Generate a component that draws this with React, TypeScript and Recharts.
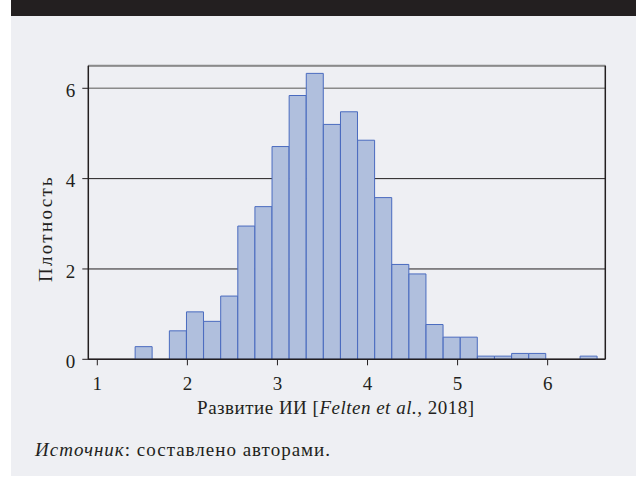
import React from "react";
import { BarChart, Bar, XAxis, YAxis, CartesianGrid, ReferenceLine } from "recharts";

const BIN_CENTERS = [
  1.515, 1.705, 1.895, 2.085, 2.275, 2.465, 2.655, 2.845, 3.035, 3.225, 3.415, 3.605, 3.795, 3.985,
  4.175, 4.365, 4.555, 4.745, 4.935, 5.125, 5.315, 5.505, 5.695, 5.885, 6.075, 6.265, 6.455,
];
const DENSITY = [
  0.28, 0, 0.63, 1.05, 0.84, 1.4, 2.95, 3.38, 4.71, 5.84, 6.33, 5.2, 5.48, 4.85,
  3.58, 2.1, 1.89, 0.77, 0.49, 0.49, 0.07, 0.07, 0.13, 0.13, 0, 0, 0.07,
];
const X_TICKS = [1, 2, 3, 4, 5, 6];
const Y_TICKS = [0, 2, 4, 6];
const GRID_COLORS = ["#231f20", "#231f20", "#231f20", "#8a8a8a"];

const X_DOMAIN: [number, number] = [0.9, 6.64];
const Y_DOMAIN: [number, number] = [0, 6.5];

const data = BIN_CENTERS.map((x, i) => ({ x, density: DENSITY[i] }));

const FONT = "'Liberation Serif', 'DejaVu Serif', serif";
const TEXT = "#231f20";

const XLabel = (props: any) => {
  const vb = props.viewBox || {};
  const cx = vb.x + vb.width / 2 - 11;
  const y = vb.y + 55;
  return (
    <text
      x={cx}
      y={y}
      textAnchor="middle"
      fontFamily={FONT}
      fontSize={19}
      letterSpacing={0.5}
      fill={TEXT}
    >
      <tspan>Развитие ИИ [</tspan>
      <tspan fontStyle="italic">Felten et al.</tspan>
      <tspan>, 2018]</tspan>
    </text>
  );
};

const YLabel = (props: any) => {
  const vb = props.viewBox || {};
  const cx = vb.x + 16.7;
  const cy = vb.y + vb.height / 2 + 16;
  return (
    <text
      x={cx}
      y={cy}
      transform={`rotate(-90 ${cx} ${cy})`}
      textAnchor="middle"
      dy="0.35em"
      fontFamily={FONT}
      fontSize={19}
      letterSpacing={2.3}
      fill={TEXT}
    >
      Плотность
    </text>
  );
};

export default function App() {
  return (
    <div style={{ position: "absolute", left: 0, top: 0, width: 636, height: 477, background: "#ffffff" }}>
      <div style={{ position: "absolute", left: 11, top: 0, width: 625, height: 16, background: "#231f20" }} />
      <div style={{ position: "absolute", left: 11, top: 16, width: 625, height: 460, background: "#eeeff3" }} />
      <div style={{ position: "absolute", left: 0, top: 0 }}>
        <BarChart
          width={636}
          height={477}
          data={data}
          margin={{ top: 65.7, right: 30.7, bottom: 77.7, left: 28.3 }}
          barCategoryGap={0}
          barGap={0}
        >
          <CartesianGrid
            vertical={false}
            horizontal={(p: any) => (
              <line
                key={p.key}
                x1={p.x1}
                x2={p.x2}
                y1={p.y1}
                y2={p.y2}
                stroke={GRID_COLORS[p.index] || "#231f20"}
                strokeWidth={p.index === 3 ? 1.6 : 1}
              />
            )}
          />
          <XAxis
            type="number"
            dataKey="x"
            domain={X_DOMAIN}
            ticks={X_TICKS}
            allowDataOverflow
            height={40}
            tickSize={6}
            tickMargin={11}
            stroke="#231f20"
            tick={{ fill: TEXT, fontFamily: FONT, fontSize: 19 }}
            axisLine={{ stroke: "#231f20", strokeWidth: 1.5 }}
            tickLine={{ stroke: "#231f20" }}
            label={<XLabel />}
          />
          <YAxis
            type="number"
            domain={Y_DOMAIN}
            ticks={Y_TICKS}
            allowDataOverflow
            width={60}
            tickSize={6}
            tickMargin={7}
            stroke="#231f20"
            tick={{ fill: TEXT, fontFamily: FONT, fontSize: 19, dy: 2 }}
            axisLine={{ stroke: "#231f20", strokeWidth: 1.5 }}
            tickLine={{ stroke: "#231f20" }}
            label={<YLabel />}
          />
          <ReferenceLine y={6.5} stroke="#8a8a8a" strokeWidth={2} />
          <ReferenceLine x={6.64} stroke="#231f20" strokeWidth={1.5} />
          <Bar
            dataKey="density"
            fill="#b0bfdd"
            stroke="#4a6bbf"
            strokeWidth={1}
            isAnimationActive={false}
          />
        </BarChart>
      </div>
      <div
        style={{
          position: "absolute",
          left: 35,
          top: 439,
          fontFamily: FONT,
          fontSize: 19,
          lineHeight: "22px",
          letterSpacing: "1px",
          color: TEXT,
          whiteSpace: "nowrap",
        }}
      >
        <i>Источник</i>: составлено авторами.
      </div>
    </div>
  );
}
